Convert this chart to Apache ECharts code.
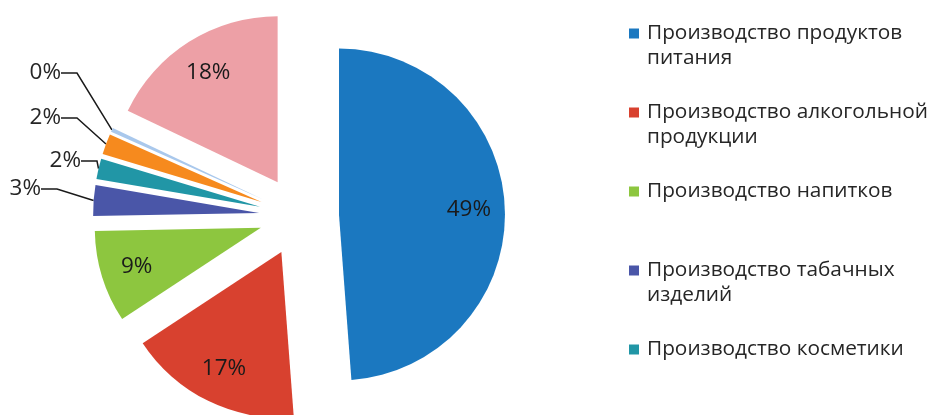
<!DOCTYPE html>
<html>
<head>
<meta charset="utf-8">
<script src="https://cdn.jsdelivr.net/npm/echarts@6/dist/echarts.min.js"></script>
<style>
  html, body { margin: 0; background: #fff; }
  #chart { width: 930px; height: 415px; }
</style>
</head>
<body>
<div id="chart"></div>
<script>
// категории (последние три в легенду не помещаются)
var categories = [
  'Производство продуктов\nпитания',
  'Производство алкогольной\nпродукции',
  'Производство напитков',
  'Производство табачных\nизделий',
  'Производство косметики',
  'Производство бытовой химии',
  'Производство парфюмерии',
  'Прочее'
];
// доли, %
var shares = [49, 17, 9, 3, 2, 2, 0.4, 18];

var colors = ['#1b78c0', '#d8412f', '#8dc63f', '#4a56a8', '#2196a6', '#f68a1e', '#a9c8ec', '#eda0a6'];
var font = '"Open Sans", "Noto Sans", sans-serif';
var lh = 25;
var cx = 299, cy = 216, R = 166, explode = 40;

// где стоят выносные подписи мелких долей (правый край текста, середина)
var outsideLabelPos = { 3: [44, 189], 4: [84, 161], 5: [64, 118], 6: [64, 73] };

var myChart = echarts.init(document.getElementById('chart'));

function pct(p) { return Math.round(p.value) + '%'; }

var total = shares.reduce(function (a, b) { return a + b; }, 0);
// смещение выдвинутого сектора (так же, как считает сам pie)
function explodeShift(i) {
  var before = 0;
  for (var k = 0; k < i; k++) before += shares[k];
  var mid = -Math.PI / 2 + 2 * Math.PI * (before + shares[i] / 2) / total;
  return [Math.cos(mid) * explode, Math.sin(mid) * explode];
}

var series = [
  // сам пирог, все сектора выдвинуты
  {
    type: 'pie',
    center: [cx, cy],
    radius: R,
    startAngle: 90,
    selectedMode: 'multiple',
    selectedOffset: explode,
    itemStyle: { borderWidth: 0 },
    select: { itemStyle: { borderWidth: 0 } },
    emphasis: { disabled: true },
    label: { show: false },
    labelLine: { show: false },
    data: categories.map(function (name, i) {
      return { name: name, value: shares[i], selected: true };
    })
  },
  // прозрачный пирог побольше — подписи крупных долей внутри
  {
    type: 'pie',
    center: [cx, cy],
    radius: R * 1.53,
    startAngle: 90,
    silent: true,
    legendHoverLink: false,
    selectedMode: 'multiple',
    selectedOffset: explode,
    itemStyle: { color: 'transparent', borderWidth: 0 },
    select: { itemStyle: { color: 'transparent', borderWidth: 0 } },
    emphasis: { disabled: true },
    label: { position: 'inside', formatter: pct, fontFamily: font, fontSize: 22.5, color: '#1a1a1a' },
    labelLine: { show: false },
    data: categories.map(function (name, i) {
      return { name: name, value: shares[i], selected: true, label: { show: shares[i] >= 5 } };
    })
  }
];

// выносные подписи мелких долей: прозрачная копия на месте выдвинутого сектора
shares.forEach(function (v, i) {
  if (v >= 5) return;
  var s = explodeShift(i);
  series.push({
    type: 'pie',
    center: [cx + s[0], cy + s[1]],
    radius: R,
    startAngle: 90,
    silent: true,
    legendHoverLink: false,
    avoidLabelOverlap: false,
    itemStyle: { color: 'transparent', borderWidth: 0 },
    emphasis: { disabled: true },
    label: {
      position: 'outside', formatter: pct, fontFamily: font, fontSize: 22.5,
      color: '#262626', padding: [0, 3, 0, 0]
    },
    labelLine: { length: 10, length2: 16, lineStyle: { color: '#1a1a1a', width: 1.5 } },
    labelLayout: function () {
      var pos = outsideLabelPos[i];
      return { x: pos[0], y: pos[1], align: 'right', verticalAlign: 'middle' };
    },
    data: categories.map(function (name, j) {
      return { name: name, value: shares[j], label: { show: j === i }, labelLine: { show: j === i } };
    })
  });
});

myChart.setOption({
  animation: false,
  color: colors,
  legend: {
    orient: 'vertical',
    left: 629,
    top: -4,
    height: 1000,
    padding: 0,
    itemGap: 4,
    itemWidth: 10,
    itemHeight: 10,
    icon: 'rect',
    selectedMode: false,
    data: categories,
    // три строки на каждую запись: значок встаёт у первой строки
    formatter: function (name) {
      return name.indexOf('\n') >= 0 ? '\n' + name : '\n' + name + '\n';
    },
    textStyle: { fontFamily: font, fontSize: 20.8, lineHeight: lh, color: '#262626', padding: [0, 0, 0, 3] }
  },
  series: series
});
</script>
</body>
</html>
